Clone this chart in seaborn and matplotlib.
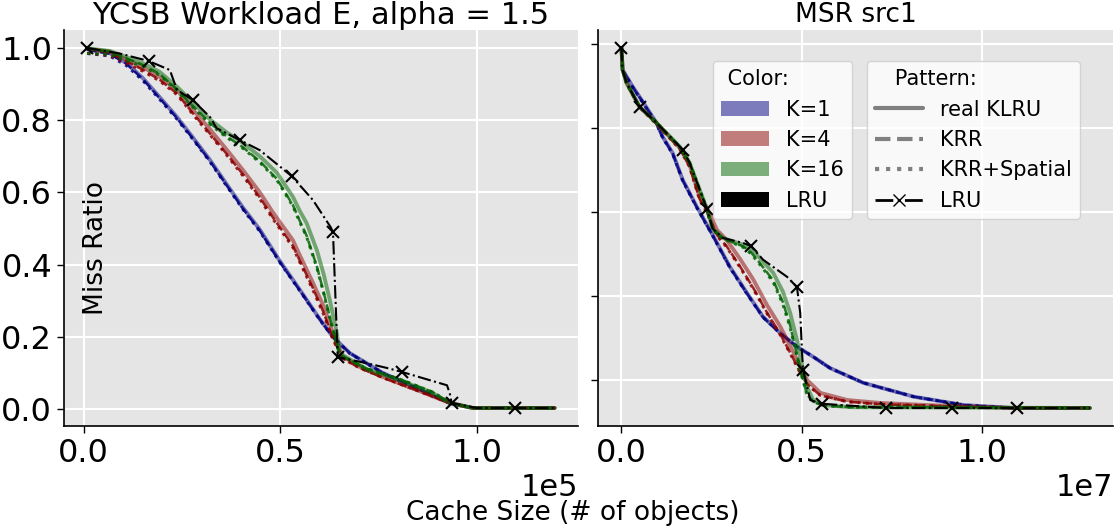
import matplotlib
matplotlib.use("Agg")
import matplotlib.pyplot as plt
import seaborn as sns
from matplotlib.patches import Patch
from matplotlib.lines import Line2D

# ---- YCSB Workload E, alpha = 1.5 (cache size in objects) ----
ycsb_k1_size = [900, 6600, 10900, 15000, 19300, 23700, 27700, 32100, 36400, 40500, 44800,
                49900, 55000, 60000, 63400, 67700, 76100, 84700, 93100, 99000, 119800]
ycsb_k1_real = [0.997, 0.986, 0.958, 0.917, 0.864, 0.809, 0.753, 0.690, 0.622, 0.558, 0.497,
                0.410, 0.330, 0.250, 0.200, 0.155, 0.100, 0.058, 0.017, 0.003, 0.003]
ycsb_k1_krr = [0.995, 0.984, 0.956, 0.914, 0.861, 0.806, 0.750, 0.687, 0.619, 0.555, 0.494,
               0.407, 0.328, 0.249, 0.199, 0.155, 0.100, 0.058, 0.017, 0.003, 0.003]
ycsb_k1_spatial = [0.985, 0.978, 0.951, 0.910, 0.858, 0.803, 0.748, 0.685, 0.617, 0.553, 0.492,
                   0.406, 0.327, 0.248, 0.199, 0.154, 0.100, 0.058, 0.017, 0.003, 0.003]

ycsb_k4_size = [900, 6600, 15000, 19300, 23700, 27700, 32100, 36400, 40500, 44800, 48100, 53200,
                55000, 58300, 61000, 63400, 65900, 70000, 76100, 84700, 93100, 99000, 119800]
ycsb_k4_real = [0.998, 0.990, 0.947, 0.920, 0.884, 0.830, 0.775, 0.718, 0.662, 0.600, 0.545, 0.468,
                0.425, 0.350, 0.285, 0.210, 0.146, 0.118, 0.089, 0.053, 0.017, 0.003, 0.003]
ycsb_k4_krr = [0.998, 0.987, 0.940, 0.912, 0.874, 0.820, 0.763, 0.706, 0.650, 0.586, 0.531, 0.452,
               0.410, 0.335, 0.268, 0.195, 0.140, 0.115, 0.087, 0.052, 0.017, 0.003, 0.003]
ycsb_k4_spatial = [0.985, 0.980, 0.936, 0.909, 0.871, 0.817, 0.760, 0.703, 0.646, 0.582, 0.527, 0.448,
                   0.406, 0.330, 0.263, 0.192, 0.140, 0.115, 0.087, 0.052, 0.017, 0.003, 0.003]

ycsb_k16_size = [900, 6600, 15000, 19300, 23700, 27700, 32100, 36400, 40500, 44800, 49100, 53200, 55000,
                 56700, 59300, 61000, 62600, 64400, 65100, 72000, 80400, 88800, 93100, 99000, 119800]
ycsb_k16_real = [0.999, 0.992, 0.958, 0.934, 0.893, 0.850, 0.802, 0.766, 0.737, 0.700, 0.655, 0.588, 0.548,
                 0.515, 0.440, 0.375, 0.302, 0.210, 0.155, 0.110, 0.080, 0.044, 0.017, 0.003, 0.003]
ycsb_k16_krr = [0.999, 0.990, 0.953, 0.928, 0.885, 0.840, 0.792, 0.755, 0.725, 0.686, 0.638, 0.565, 0.520,
                0.480, 0.395, 0.325, 0.255, 0.180, 0.150, 0.112, 0.083, 0.047, 0.018, 0.003, 0.003]
ycsb_k16_spatial = [0.985, 0.982, 0.949, 0.925, 0.882, 0.837, 0.789, 0.752, 0.722, 0.683, 0.635, 0.562, 0.517,
                    0.477, 0.392, 0.322, 0.252, 0.178, 0.150, 0.112, 0.083, 0.047, 0.018, 0.003, 0.003]

ycsb_lru_size = [900, 9000, 16500, 21900, 23700, 27700, 32100, 33800, 39700, 44800, 52900, 58300,
                 62800, 63400, 64600, 72000, 77100, 80900, 92400, 93100, 93600, 100000, 109700, 119800]
ycsb_lru = [1.000, 0.985, 0.964, 0.939, 0.884, 0.856, 0.809, 0.778, 0.745, 0.717, 0.645, 0.579,
            0.504, 0.490, 0.144, 0.127, 0.114, 0.103, 0.066, 0.044, 0.017, 0.003, 0.003, 0.003]

# ---- MSR src1 (cache size in objects) ----
msr_k1_size = [0, 3e4, 3.1e5, 5.0e5, 9.7e5, 1.14e6, 1.42e6, 1.70e6, 2.09e6, 2.53e6, 3.01e6,
               3.48e6, 3.93e6, 4.40e6, 4.87e6, 5.32e6, 5.79e6, 6.71e6, 8.11e6, 9.50e6, 1.089e7, 1.30e7]
msr_k1_real = [0.990, 0.938, 0.898, 0.874, 0.812, 0.779, 0.740, 0.676, 0.612, 0.545, 0.469,
               0.407, 0.350, 0.312, 0.279, 0.255, 0.228, 0.193, 0.160, 0.140, 0.133, 0.133]
msr_k1_krr = [0.990, 0.938, 0.897, 0.873, 0.811, 0.778, 0.739, 0.675, 0.611, 0.544, 0.468,
              0.406, 0.349, 0.311, 0.279, 0.255, 0.228, 0.193, 0.160, 0.140, 0.133, 0.133]
msr_k1_spatial = [0.990, 0.937, 0.897, 0.872, 0.810, 0.777, 0.738, 0.674, 0.610, 0.543, 0.467,
                  0.405, 0.349, 0.311, 0.279, 0.255, 0.228, 0.193, 0.160, 0.140, 0.133, 0.133]

msr_k4_size = [0, 3e4, 1.4e5, 5.0e5, 9.7e5, 1.62e6, 1.89e6, 2.17e6, 2.37e6, 2.65e6, 2.92e6, 3.29e6,
               3.65e6, 4.04e6, 4.40e6, 4.76e6, 4.96e6, 5.15e6, 5.52e6, 6.27e6, 7.19e6, 9.05e6, 1.089e7, 1.30e7]
msr_k4_real = [0.990, 0.938, 0.907, 0.850, 0.812, 0.752, 0.712, 0.636, 0.610, 0.557, 0.533, 0.488,
               0.440, 0.378, 0.328, 0.268, 0.232, 0.200, 0.169, 0.152, 0.145, 0.138, 0.133, 0.133]
msr_k4_krr = [0.990, 0.938, 0.907, 0.850, 0.810, 0.750, 0.708, 0.630, 0.600, 0.545, 0.518, 0.470,
              0.420, 0.360, 0.310, 0.252, 0.218, 0.190, 0.163, 0.148, 0.142, 0.137, 0.133, 0.133]
msr_k4_spatial = [0.990, 0.938, 0.906, 0.849, 0.809, 0.749, 0.707, 0.628, 0.598, 0.543, 0.516, 0.468,
                  0.418, 0.358, 0.308, 0.250, 0.217, 0.189, 0.163, 0.148, 0.142, 0.137, 0.133, 0.133]

msr_k16_size = [0, 3e4, 1.4e5, 5.0e5, 9.7e5, 1.62e6, 1.89e6, 2.37e6, 2.53e6, 2.81e6, 3.37e6, 3.60e6,
                3.84e6, 4.21e6, 4.48e6, 4.68e6, 4.87e6, 4.96e6, 5.15e6, 5.32e6, 5.60e6, 6.40e6, 1.30e7]
msr_k16_real = [0.990, 0.938, 0.907, 0.850, 0.812, 0.755, 0.717, 0.607, 0.560, 0.538, 0.522, 0.510,
                0.490, 0.455, 0.410, 0.360, 0.295, 0.255, 0.183, 0.152, 0.140, 0.135, 0.133]
msr_k16_krr = [0.990, 0.938, 0.907, 0.850, 0.812, 0.755, 0.717, 0.607, 0.560, 0.537, 0.518, 0.503,
               0.478, 0.437, 0.385, 0.330, 0.260, 0.225, 0.165, 0.148, 0.139, 0.135, 0.133]
msr_k16_spatial = [0.990, 0.938, 0.907, 0.850, 0.812, 0.755, 0.717, 0.607, 0.559, 0.536, 0.516, 0.500,
                   0.475, 0.433, 0.380, 0.325, 0.257, 0.222, 0.164, 0.148, 0.139, 0.135, 0.133]

msr_lru_size = [0, 3e4, 1.4e5, 5.0e5, 9.7e5, 1.62e6, 1.70e6, 1.89e6, 2.37e6, 2.53e6, 2.81e6, 3.37e6,
                3.59e6, 3.93e6, 4.60e6, 4.87e6, 4.96e6, 5.01e6, 5.04e6, 5.24e6, 5.57e6, 7.35e6,
                9.16e6, 1.098e7, 1.30e7]
msr_lru = [0.990, 0.938, 0.907, 0.850, 0.812, 0.755, 0.748, 0.717, 0.607, 0.560, 0.538, 0.526,
           0.519, 0.486, 0.445, 0.421, 0.360, 0.267, 0.224, 0.152, 0.143, 0.133,
           0.133, 0.133, 0.133]

k_labels = ["K=1", "K=4", "K=16", "LRU"]
k_colors = ["navy", "darkred", "darkgreen", "black"]
pattern_labels = ["real KLRU", "KRR", "KRR+Spatial", "LRU"]

sns.set_style("darkgrid", {"axes.facecolor": "#E5E5E5", "grid.color": "white",
                           "axes.edgecolor": "black", "xtick.bottom": True, "ytick.left": True,
                           "xtick.color": "black", "ytick.color": "black",
                           "text.color": "black", "axes.labelcolor": "black"})
plt.rcParams["font.family"] = ["DejaVu Sans"]

fig = plt.figure(figsize=(11.2, 5.31), dpi=100)
ax1 = fig.add_axes([0.0571, 0.1977, 0.459, 0.7458])
ax2 = fig.add_axes([0.534, 0.1977, 0.46, 0.7458])

panels = [
    (ax1, [(ycsb_k1_size, ycsb_k1_real, ycsb_k1_krr, ycsb_k1_spatial),
           (ycsb_k4_size, ycsb_k4_real, ycsb_k4_krr, ycsb_k4_spatial),
           (ycsb_k16_size, ycsb_k16_real, ycsb_k16_krr, ycsb_k16_spatial)],
     ycsb_lru_size, ycsb_lru),
    (ax2, [(msr_k1_size, msr_k1_real, msr_k1_krr, msr_k1_spatial),
           (msr_k4_size, msr_k4_real, msr_k4_krr, msr_k4_spatial),
           (msr_k16_size, msr_k16_real, msr_k16_krr, msr_k16_spatial)],
     msr_lru_size, msr_lru),
]

for ax, curves, lru_x, lru_y in panels:
    for (xs, real, krr, spatial), c in zip(curves, k_colors):
        sns.lineplot(x=xs, y=real, ax=ax, color=c, linestyle="-", linewidth=2.8, alpha=0.5,
                     sort=False, estimator=None)
        sns.lineplot(x=xs, y=krr, ax=ax, color=c, linestyle="--", linewidth=1.8, alpha=0.85,
                     sort=False, estimator=None)
        sns.lineplot(x=xs, y=spatial, ax=ax, color=c, linestyle=":", linewidth=2.2, alpha=0.85,
                     sort=False, estimator=None)
    sns.lineplot(x=lru_x, y=lru_y, ax=ax, color="black", linestyle="-.", linewidth=1.5,
                 marker="x", markersize=8, markeredgewidth=1.5, markeredgecolor="black",
                 markevery=0.1, sort=False, estimator=None)

    ax.spines[["top", "right"]].set_visible(False)
    for s in ["left", "bottom"]:
        ax.spines[s].set_color("black")
        ax.spines[s].set_linewidth(1.2)
    ax.grid(True, color="white", linewidth=1.5)
    ax.tick_params(labelsize=23, length=5, width=1, direction="out", colors="black")
    ax.ticklabel_format(style="sci", axis="x", scilimits=(0, 0))
    ax.xaxis.get_offset_text().set_fontsize(22)
    ax.set_xlabel("")
    ax.set_ylabel("")

ax1.set_xticks([0, 50000, 100000])
ax1.set_yticks([0.0, 0.2, 0.4, 0.6, 0.8, 1.0])
ax2.set_xticks([0, 5e6, 1e7])
ax2.set_yticks([0.2, 0.4, 0.6, 0.8, 1.0])
ax2.set_yticklabels([])

ax1.set_title("YCSB Workload E, alpha = 1.5", fontsize=22, pad=3)
ax2.set_title("MSR src1", fontsize=19)

color_handles = [Patch(facecolor=c, alpha=0.5 if c != "black" else 1.0, edgecolor="none")
                 for c in k_colors]
pattern_handles = [
    Line2D([], [], color="0.5", linestyle="-", linewidth=3),
    Line2D([], [], color="0.5", linestyle="--", linewidth=3),
    Line2D([], [], color="0.5", linestyle=":", linewidth=3),
    Line2D([], [], color="black", linestyle="-.", linewidth=2, marker="x", markersize=8),
]
leg1 = ax2.legend(color_handles, k_labels, title=" Color:", loc="upper left",
                  bbox_to_anchor=(0.223, 0.922), borderaxespad=0, fontsize=15,
                  title_fontsize=15, alignment="left", handlelength=2.3,
                  facecolor="white", framealpha=0.8, edgecolor="#CCCCCC")
ax2.add_artist(leg1)
ax2.legend(pattern_handles, pattern_labels, title="   Pattern:", loc="upper left",
           bbox_to_anchor=(0.522, 0.922), borderaxespad=0, fontsize=15,
           title_fontsize=15, alignment="left", handlelength=2.3,
           facecolor="white", framealpha=0.8, edgecolor="#CCCCCC")

fig.text(0.0857, 0.533, "Miss Ratio", rotation=90, fontsize=19, ha="center", va="center")
fig.text(0.511, 0.034, "Cache Size (# of objects)", fontsize=19, ha="center", va="center")

fig.savefig("out.png", dpi=100)
